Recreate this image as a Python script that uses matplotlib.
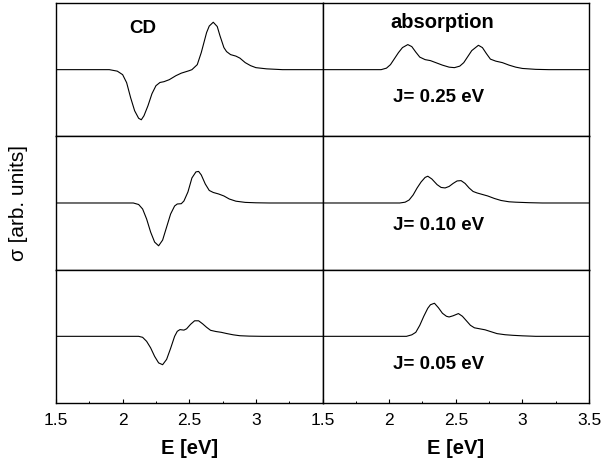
import matplotlib as mpl
from matplotlib import pyplot as plt
from matplotlib.ticker import FixedLocator, MultipleLocator

plt.rcParams['font.family'] = ['Liberation Sans', 'DejaVu Sans']

# CD spectra (left column), one per coupling J
cd_e_025 = [1.5, 1.90, 1.96, 2.00, 2.03, 2.06, 2.09, 2.12, 2.14, 2.16, 2.19, 2.22, 2.25, 2.28, 2.31,
            2.35, 2.40, 2.44, 2.50, 2.52, 2.56, 2.59, 2.61, 2.63, 2.65, 2.68, 2.71, 2.73, 2.76, 2.78,
            2.81, 2.85, 2.88, 2.92, 2.96, 3.00, 3.08, 3.20, 3.5]
cd_y_025 = [0, 0, -1.5, -5, -13, -28, -41, -48.5, -50, -46, -36, -24, -16, -12.8, -12,
            -10, -6, -3.5, -1, 0, 5, 17, 27, 37, 43.5, 47.3, 43, 34, 22, 18,
            15, 13.5, 11.5, 7, 4, 2, 0.8, 0, 0]

cd_e_010 = [1.5, 2.08, 2.12, 2.15, 2.18, 2.21, 2.24, 2.27, 2.30, 2.33, 2.36, 2.39, 2.41, 2.44,
            2.46, 2.49, 2.52, 2.55, 2.57, 2.59, 2.62, 2.65, 2.68, 2.72, 2.76, 2.80, 2.85, 2.92,
            3.0, 3.1, 3.5]
cd_y_010 = [0, 0, -1.5, -6, -16, -29, -39, -42.7, -37, -24, -11, -3, -1, -0.7,
            2, 11, 25, 31, 31.5, 28, 19, 12.5, 10.5, 9, 7, 4, 1.8, 0.6,
            0.2, 0, 0]

cd_e_005 = [1.5, 2.12, 2.15, 2.18, 2.21, 2.24, 2.27, 2.30, 2.33, 2.36, 2.39, 2.41, 2.43, 2.46,
            2.48, 2.51, 2.54, 2.57, 2.60, 2.63, 2.66, 2.70, 2.74, 2.78, 2.83, 2.88, 2.95, 3.05, 3.5]
cd_y_005 = [0, 0, -1, -5, -11.5, -20, -26.5, -28.3, -23, -12, 0, 5, 6.7, 6.2,
            7.5, 12, 15.5, 15.5, 12.5, 9, 6, 4.8, 4, 2.8, 1.5, 0.6, 0.2, 0, 0]

# absorption spectra (right column)
ab_e_025 = [1.5, 1.94, 1.98, 2.01, 2.04, 2.07, 2.10, 2.14, 2.17, 2.20, 2.23, 2.27, 2.31, 2.35,
            2.40, 2.45, 2.49, 2.53, 2.56, 2.59, 2.62, 2.67, 2.70, 2.73, 2.76, 2.80, 2.85, 2.90,
            2.95, 3.00, 3.10, 3.20, 3.5]
ab_y_025 = [0, 0, 1.5, 5, 11, 17, 22, 25, 23, 17.5, 12.5, 10, 9, 7,
            4.5, 2.5, 2, 3.5, 7, 13, 19, 24.3, 22, 16, 10.5, 8.5, 7, 4.5,
            2.5, 1.2, 0.3, 0, 0]

ab_e_010 = [1.5, 2.08, 2.12, 2.15, 2.18, 2.21, 2.24, 2.27, 2.29, 2.32, 2.36, 2.39, 2.42, 2.45,
            2.48, 2.51, 2.54, 2.57, 2.60, 2.63, 2.66, 2.70, 2.74, 2.79, 2.84, 2.90, 2.95, 3.05,
            3.15, 3.5]
ab_y_010 = [0, 0, 0.8, 3, 8, 15, 21, 25.5, 26.7, 24, 18.3, 15.5, 15, 16.5,
            19.5, 22, 22.3, 19.5, 15, 11.5, 10, 8.5, 7, 4.5, 2.5, 1.2, 0.8, 0.3,
            0, 0]

ab_e_005 = [1.5, 2.13, 2.17, 2.20, 2.23, 2.26, 2.29, 2.31, 2.34, 2.37, 2.40, 2.43, 2.45, 2.48,
            2.52, 2.55, 2.58, 2.61, 2.64, 2.68, 2.72, 2.76, 2.81, 2.87, 2.93, 3.0, 3.1, 3.5]
ab_y_005 = [0, 0, 1.5, 4, 11, 20, 28, 31.5, 33, 28.5, 23, 20, 19.3, 20.5,
            22.7, 20, 15.5, 11, 8.5, 7.5, 6.5, 4.8, 2.7, 1.6, 1, 0.5, 0, 0]

j_labels = ['J= 0.25 eV', 'J= 0.10 eV', 'J= 0.05 eV']
tick_vals = [1.5, 2, 2.5, 3, 3.5]
tick_labels_left = ['1.5', '2', '2.5', '3', '']
tick_labels_right = ['1.5', '2', '2.5', '3', '3.5']

cd_rows = [(cd_e_025, cd_y_025), (cd_e_010, cd_y_010), (cd_e_005, cd_y_005)]
ab_rows = [(ab_e_025, ab_y_025), (ab_e_010, ab_y_010), (ab_e_005, ab_y_005)]

fig, axes = plt.subplots(3, 2, figsize=(6.03, 4.66), dpi=100)
fig.subplots_adjust(left=0.0929, right=0.9768, top=0.9936, bottom=0.1352, hspace=0, wspace=0)

for i in range(3):
	for j in range(2):
		ax = axes[i][j]
		e, y = cd_rows[i] if j == 0 else ab_rows[i]
		ax.plot(e, y, color='black', lw=0.8)
		ax.set_xlim(1.5, 3.5)
		ax.set_ylim(-66.5, 66.5)
		for s in ax.spines.values():
			s.set_linewidth(1.0)
		ax.tick_params(left=False, labelleft=False)
		if i < 2:
			ax.tick_params(bottom=False, labelbottom=False)
		else:
			ax.xaxis.set_major_locator(FixedLocator(tick_vals))
			ax.set_xticklabels(tick_labels_left if j == 0 else tick_labels_right)
			ax.xaxis.set_minor_locator(MultipleLocator(0.25))
			ax.tick_params(which='major', direction='in', length=3, width=0.8, labelsize=12.5, pad=7)
			ax.tick_params(which='minor', direction='in', length=1.7, width=0.7)
			ax.set_xlabel('E [eV]', fontsize=14.5, fontweight='bold', labelpad=8)

axes[0][0].text(0.327, 0.806, 'CD', transform=axes[0][0].transAxes, ha='center', va='center',
	fontsize=13.5, fontweight='bold')
axes[0][1].text(0.448, 0.85, 'absorption', transform=axes[0][1].transAxes, ha='center', va='center',
	fontsize=14.5, fontweight='bold')
j_pos = [0.291, 0.331, 0.286]
for i in range(3):
	axes[i][1].text(0.434, j_pos[i], j_labels[i], transform=axes[i][1].transAxes, ha='center',
		va='center', fontsize=13.5, fontweight='bold')

fig.text(0.031, 0.564, 'σ [arb. units]', rotation=90, ha='center', va='center', fontsize=15)

plt.savefig('out.png', dpi=100)
